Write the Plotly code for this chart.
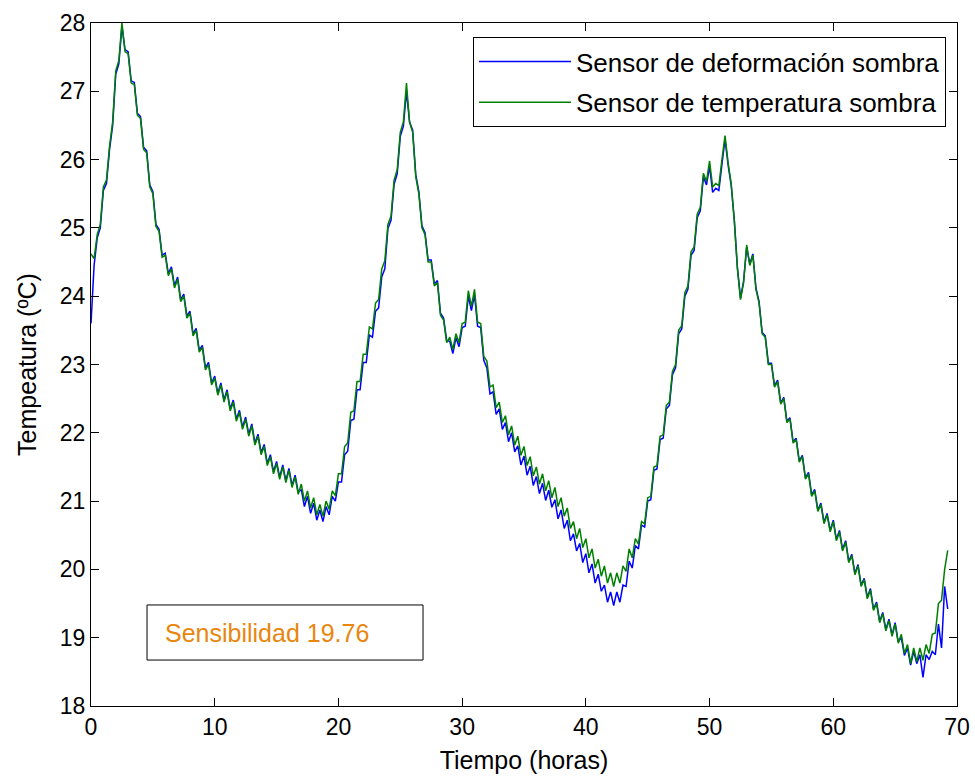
import plotly.graph_objects as go

# Sampling every 0.25 h
sensor_deformacion = [
    23.60, 24.45, 24.85, 25.00, 25.55, 25.65, 26.15, 26.50, 27.25, 27.40,
    27.95, 27.61, 27.58, 27.15, 27.13, 26.68, 26.63, 26.18, 26.13, 25.63,
    25.53, 25.05, 24.98, 24.60, 24.63, 24.33, 24.43, 24.15, 24.28, 23.95,
    24.03, 23.71, 23.78, 23.45, 23.53, 23.21, 23.28, 22.95, 23.03, 22.73,
    22.83, 22.58, 22.73, 22.48, 22.63, 22.35, 22.48, 22.20, 22.33, 22.08,
    22.23, 21.98, 22.13, 21.85, 21.98, 21.71, 21.83, 21.55, 21.68, 21.43,
    21.58, 21.35, 21.53, 21.30, 21.48, 21.23, 21.38, 21.13, 21.17, 20.92,
    21.07, 20.82, 20.97, 20.72, 20.87, 20.70, 20.92, 20.80, 21.07, 21.00,
    21.28, 21.28, 21.68, 21.73, 22.18, 22.20, 22.63, 22.63, 23.03, 23.03,
    23.43, 23.40, 23.78, 23.83, 24.28, 24.40, 24.99, 25.11, 25.64, 25.79,
    26.34, 26.49, 27.00, 26.55, 26.43, 25.78, 25.53, 25.03, 24.93, 24.53,
    24.53, 24.18, 24.23, 23.75, 23.68, 23.35, 23.34, 23.16, 23.39, 23.26,
    23.54, 23.56, 24.00, 23.79, 24.02, 23.56, 23.54, 23.06, 22.95, 22.57,
    22.60, 22.27, 22.35, 22.05, 22.15, 21.87, 22.00, 21.72, 21.81, 21.53,
    21.66, 21.38, 21.51, 21.23, 21.36, 21.11, 21.26, 21.01, 21.16, 20.91,
    21.02, 20.74, 20.87, 20.60, 20.72, 20.42, 20.52, 20.27, 20.38, 20.10,
    20.23, 19.95, 20.08, 19.80, 19.93, 19.68, 19.77, 19.52, 19.67, 19.47,
    19.67, 19.52, 19.77, 19.75, 20.12, 20.02, 20.35, 20.30, 20.65, 20.62,
    21.00, 21.02, 21.45, 21.47, 21.90, 21.92, 22.35, 22.40, 22.85, 22.95,
    23.45, 23.52, 24.00, 24.10, 24.60, 24.67, 25.15, 25.25, 25.75, 25.63,
    25.90, 25.52, 25.58, 25.55, 25.93, 26.30, 25.92, 25.62, 25.12, 24.42,
    23.97, 24.22, 24.72, 24.47, 24.62, 24.12, 23.92, 23.47, 23.42, 23.02,
    23.02, 22.69, 22.77, 22.44, 22.52, 22.17, 22.22, 21.87, 21.92, 21.59,
    21.67, 21.34, 21.42, 21.09, 21.17, 20.87, 20.97, 20.69, 20.82, 20.57,
    20.72, 20.44, 20.57, 20.29, 20.42, 20.12, 20.22, 19.94, 20.07, 19.77,
    19.87, 19.59, 19.72, 19.42, 19.52, 19.24, 19.37, 19.12, 19.27, 19.04,
    19.22, 18.94, 19.00, 18.74, 18.85, 18.60, 18.80, 18.62, 18.75, 18.42,
    18.75, 18.68, 18.80, 18.75, 19.20, 18.85, 19.75, 19.42,
]

sensor_temperatura = [
    24.62, 24.55, 24.90, 25.05, 25.60, 25.70, 26.20, 26.55, 27.30, 27.45,
    28.00, 27.58, 27.55, 27.12, 27.10, 26.65, 26.60, 26.15, 26.10, 25.60,
    25.50, 25.02, 24.95, 24.57, 24.60, 24.30, 24.40, 24.12, 24.25, 23.92,
    24.00, 23.68, 23.75, 23.42, 23.50, 23.18, 23.25, 22.92, 23.00, 22.70,
    22.80, 22.55, 22.70, 22.45, 22.60, 22.32, 22.45, 22.17, 22.30, 22.05,
    22.20, 21.95, 22.10, 21.82, 21.95, 21.68, 21.80, 21.52, 21.65, 21.40,
    21.55, 21.32, 21.50, 21.27, 21.45, 21.20, 21.35, 21.10, 21.25, 21.00,
    21.15, 20.90, 21.05, 20.80, 20.95, 20.78, 21.00, 20.88, 21.15, 21.08,
    21.40, 21.40, 21.80, 21.85, 22.30, 22.32, 22.75, 22.75, 23.15, 23.15,
    23.55, 23.52, 23.90, 23.95, 24.40, 24.52, 25.05, 25.17, 25.70, 25.85,
    26.40, 26.55, 27.12, 26.55, 26.40, 25.75, 25.50, 25.00, 24.90, 24.50,
    24.50, 24.15, 24.20, 23.72, 23.65, 23.32, 23.40, 23.22, 23.45, 23.32,
    23.60, 23.62, 24.08, 23.85, 24.10, 23.62, 23.60, 23.12, 23.05, 22.67,
    22.70, 22.37, 22.45, 22.15, 22.25, 21.97, 22.10, 21.82, 21.95, 21.67,
    21.80, 21.52, 21.65, 21.37, 21.50, 21.25, 21.40, 21.15, 21.30, 21.05,
    21.20, 20.92, 21.05, 20.78, 20.90, 20.60, 20.70, 20.45, 20.60, 20.32,
    20.45, 20.17, 20.30, 20.02, 20.15, 19.90, 20.05, 19.80, 19.95, 19.75,
    19.95, 19.80, 20.05, 19.97, 20.30, 20.17, 20.45, 20.37, 20.70, 20.67,
    21.05, 21.07, 21.50, 21.52, 21.95, 21.97, 22.40, 22.45, 22.90, 23.00,
    23.50, 23.57, 24.05, 24.15, 24.65, 24.72, 25.20, 25.30, 25.80, 25.68,
    25.98, 25.60, 25.65, 25.62, 26.00, 26.35, 25.95, 25.65, 25.10, 24.40,
    23.95, 24.20, 24.75, 24.45, 24.60, 24.10, 23.90, 23.45, 23.40, 23.00,
    23.00, 22.67, 22.75, 22.42, 22.50, 22.15, 22.20, 21.85, 21.90, 21.57,
    21.65, 21.32, 21.40, 21.07, 21.15, 20.85, 20.95, 20.67, 20.80, 20.55,
    20.70, 20.42, 20.55, 20.27, 20.40, 20.10, 20.20, 19.92, 20.05, 19.75,
    19.85, 19.57, 19.70, 19.40, 19.50, 19.22, 19.35, 19.10, 19.25, 19.02,
    19.20, 18.92, 19.05, 18.77, 18.90, 18.62, 18.85, 18.65, 18.85, 18.67,
    18.90, 18.77, 19.05, 19.07, 19.50, 19.55, 20.00, 20.28,
]

tiempo = [round(0.25 * i, 2) for i in range(len(sensor_temperatura))]

x_ticks = [0, 10, 20, 30, 40, 50, 60, 70]
y_ticks = [18, 19, 20, 21, 22, 23, 24, 25, 26, 27, 28]

FONT = "Liberation Sans, Arial, Helvetica, sans-serif"

fig = go.Figure()
fig.add_trace(go.Scatter(
    x=tiempo, y=sensor_deformacion, mode="lines",
    name="Sensor de deformación sombra", legendgroup="a",
    line=dict(color="rgb(0,0,255)", width=1.5),
))
fig.add_trace(go.Scatter(
    x=tiempo, y=sensor_temperatura, mode="lines",
    name="Sensor de temperatura sombra", legendgroup="b",
    line=dict(color="rgb(0,128,0)", width=1.5),
))

axis_common = dict(
    showline=True, linecolor="black", linewidth=1, mirror="ticks",
    ticks="inside", ticklen=8, tickcolor="black", tickwidth=1,
    showgrid=False, zeroline=False, automargin=False,
    tickfont=dict(family=FONT, size=23, color="black"),
)

fig.update_xaxes(
    range=[0, 70], tickvals=x_ticks, ticktext=[str(v) for v in x_ticks],
    title=dict(text="Tiempo (horas)", font=dict(family=FONT, size=25, color="black"), standoff=12),
    **axis_common,
)
fig.update_yaxes(
    range=[18, 28], tickvals=y_ticks, ticktext=[str(v) for v in y_ticks],
    title=dict(text="Tempeatura (ºC)", font=dict(family=FONT, size=25, color="black"), standoff=16),
    **axis_common,
)

fig.add_shape(type="rect", xref="paper", yref="paper",
              x0=0.0647, x1=0.3834, y0=0.0673, y1=0.1479,
              line=dict(color="black", width=1), fillcolor="white", layer="above")
fig.add_annotation(xref="paper", yref="paper", x=0.0831, y=0.1076,
                   xanchor="left", yanchor="middle", showarrow=False,
                   text="Sensibilidad 19.76",
                   font=dict(family=FONT, size=25, color="#E8860E"))

fig.update_layout(
    width=975, height=776, autosize=False,
    margin=dict(l=91, r=18, t=23, b=70),
    paper_bgcolor="white", plot_bgcolor="white",
    font=dict(family=FONT, color="black"),
    showlegend=True,
    legend=dict(
        x=0.9873, y=0.9795, xanchor="right", yanchor="top",
        bgcolor="white", bordercolor="black", borderwidth=1,
        font=dict(family=FONT, size=26, color="black"),
        itemwidth=92, traceorder="grouped", tracegroupgap=4,
    ),
)

fig.write_html("out.html", config={"displayModeBar": False})

# remove the default page margin so the figure sits at the window's top-left corner
with open("out.html", "r", encoding="utf-8") as fh:
    page = fh.read()
page = page.replace("<head>", "<head><style>html,body{margin:0;padding:0;overflow:hidden;}</style>", 1)
with open("out.html", "w", encoding="utf-8") as fh:
    fh.write(page)
